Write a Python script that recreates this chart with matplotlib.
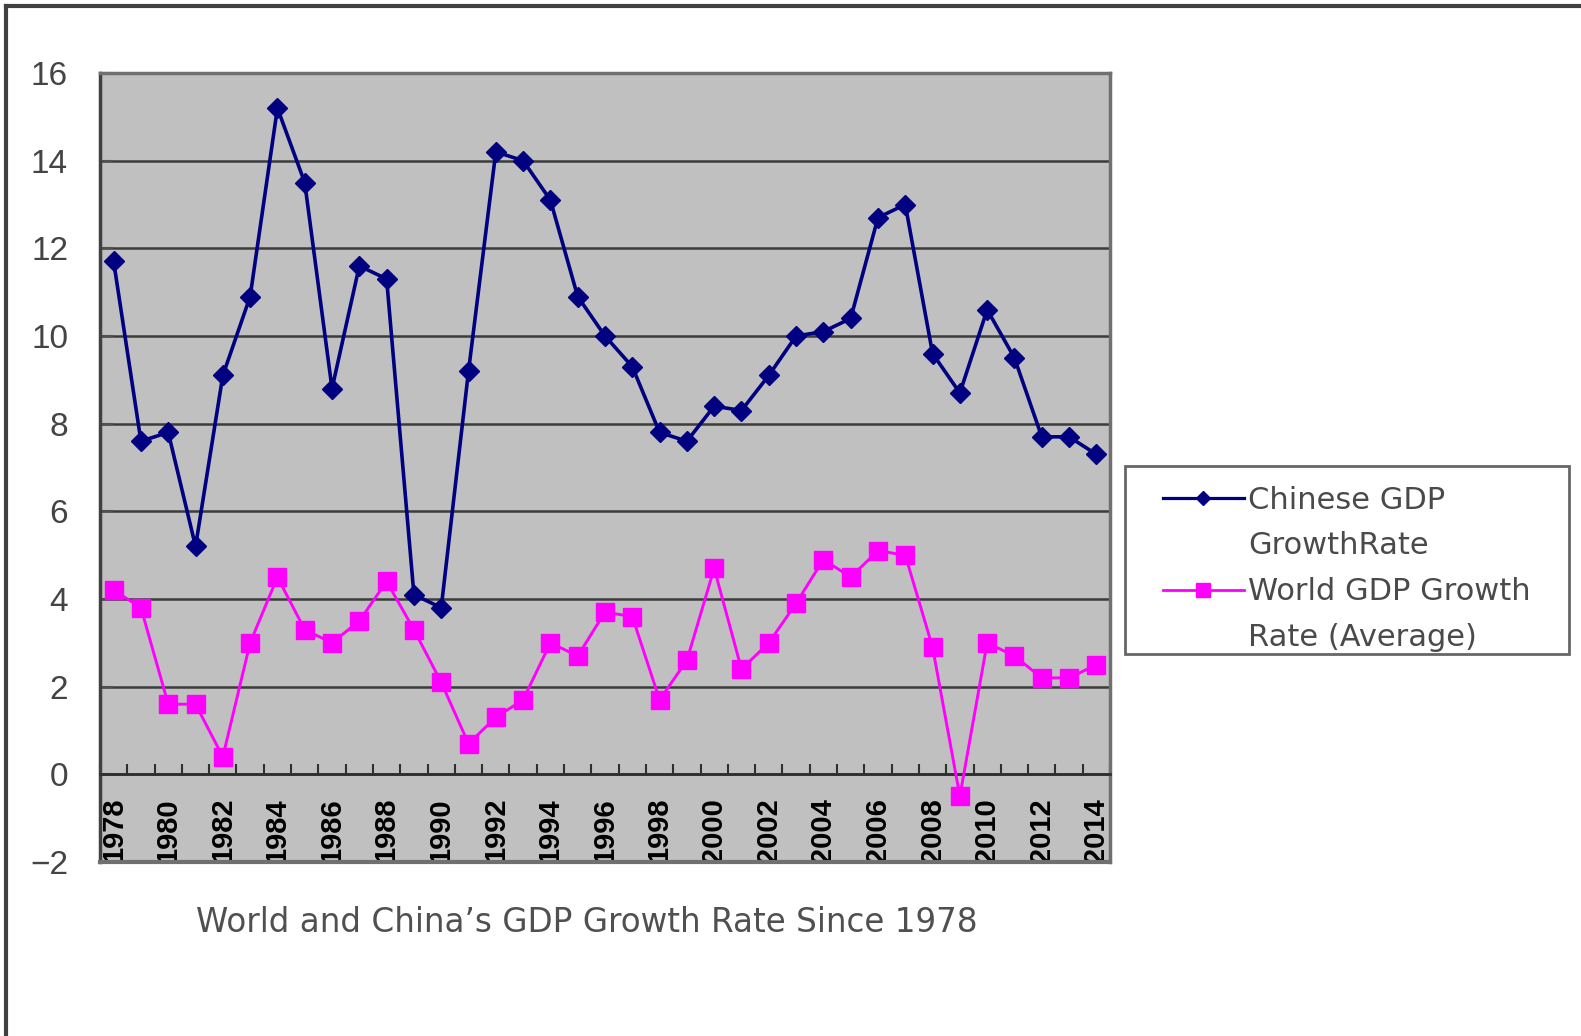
import matplotlib
matplotlib.use("Agg")
import matplotlib.pyplot as plt
from matplotlib.lines import Line2D
from matplotlib.path import Path

# values (percent)
years = list(range(1978, 2015))
china_gdp = [11.7, 7.6, 7.8, 5.2, 9.1, 10.9, 15.2, 13.5, 8.8, 11.6,
             11.3, 4.1, 3.8, 9.2, 14.2, 14.0, 13.1, 10.9, 10.0, 9.3,
             7.8, 7.6, 8.4, 8.3, 9.1, 10.0, 10.1, 10.4, 12.7, 13.0,
             9.6, 8.7, 10.6, 9.5, 7.7, 7.7, 7.3]
world_gdp = [4.2, 3.8, 1.6, 1.6, 0.4, 3.0, 4.5, 3.3, 3.0, 3.5,
             4.4, 3.3, 2.1, 0.7, 1.3, 1.7, 3.0, 2.7, 3.7, 3.6,
             1.7, 2.6, 4.7, 2.4, 3.0, 3.9, 4.9, 4.5, 5.1, 5.0,
             2.9, -0.5, 3.0, 2.7, 2.2, 2.2, 2.5]
year_labels = years[::2]
y_ticks = [-2, 0, 2, 4, 6, 8, 10, 12, 14, 16]
china_label = ["Chinese GDP", "GrowthRate"]
world_label = ["World GDP Growth", "Rate (Average)"]
title = "World and China\u2019s GDP Growth Rate Since 1978"

W, H = 1581, 1036
fig = plt.figure(figsize=(W / 100, H / 100), dpi=100)
ax = fig.add_axes([100 / W, 1 - 862 / H, 1010 / W, (862 - 73) / H])
ax.set_facecolor("#c0c0c0")

ax.plot(years, china_gdp, color="#000080", lw=2.6, marker="D", ms=10.5,
        zorder=4, clip_on=False)
ax.plot(years, world_gdp, color="#ff00ff", lw=2.1, marker="s", ms=13,
        zorder=3, clip_on=False)

ax.set_xlim(years[0] - 0.5, years[-1] + 0.5)
ax.set_ylim(y_ticks[0], y_ticks[-1])
ax.set_yticks(y_ticks)
ax.set_yticklabels([str(v).replace("-", "\u2212") for v in y_ticks],
                   fontsize=24, color="#444444", family="Liberation Sans")
ax.tick_params(axis="y", direction="in", length=9, width=1.5,
               color="#505050", pad=23)
ax.yaxis.grid(True, color="#3c3c3c", lw=1.8)
ax.set_axisbelow(True)

# category axis crosses at zero
ax.spines["bottom"].set_position(("data", 0))
ax.spines["bottom"].set_color("#303030")
ax.spines["bottom"].set_linewidth(2)
ax.set_xticks(year_labels)
ax.set_xticklabels([str(y) for y in year_labels], rotation=90,
                   fontsize=21, fontweight="bold", color="black",
                   family="Liberation Sans")
ax.set_xticks([y - 0.5 for y in years] + [years[-1] + 0.5], minor=True)
ax.tick_params(axis="x", which="major", length=0, pad=17)
ax.tick_params(axis="x", which="minor", direction="in", length=7,
               width=1.5, color="#303030")
for lab in ax.get_xticklabels():
    lab.set_clip_path(ax.patch)

ax.spines["left"].set_color("#404040")
ax.spines["left"].set_linewidth(2.5)
for s in ["top", "right"]:
    ax.spines[s].set_color("#707070")
    ax.spines[s].set_linewidth(2.5)
ax.axhline(y_ticks[0], color="#707070", lw=3, zorder=5, clip_on=False)


def wide_box(x0, y0, width, height, mutation_size):
    # legend frame: wider at the sides, a bit more on top, tighter at bottom
    dx = 0.9 * mutation_size
    top = y0 + height + 0.3 * mutation_size
    bottom = y0 + 0.3 * mutation_size
    return Path([(x0 - dx, bottom), (x0 + width + dx, bottom),
                 (x0 + width + dx, top), (x0 - dx, top),
                 (x0 - dx, bottom)], closed=True)


# legend, second lines as blank entries so the sample sits on the first line
blank = Line2D([], [], color="none")
handles = [Line2D([], [], color="#000080", lw=2.3, marker="D", ms=7.5), blank,
           Line2D([], [], color="#ff00ff", lw=2.0, marker="s", ms=9.5), blank]
labels = [china_label[0], china_label[1], world_label[0], world_label[1]]
leg = fig.legend(handles, labels, loc="upper left",
                 bbox_to_anchor=(1152 / W, 1 - 475 / H),
                 prop={"family": "DejaVu Sans", "size": 22},
                 labelcolor="#4a4a4a", frameon=True, fancybox=False,
                 edgecolor="#404040", handlelength=2.65, handletextpad=0.15,
                 labelspacing=0.55, borderpad=0.35, borderaxespad=0)
leg.get_frame().set_boxstyle(wide_box)
leg.get_frame().set_linewidth(2)

fig.text(587 / W, 1 - 922 / H, title, ha="center", va="center",
         fontsize=23.5, color="#505050", family="DejaVu Sans")

# outer frame, only left and top edges are visible
fig.add_artist(Line2D([6 / W, 6 / W], [0, 1 - 6 / H], color="#404040",
                      lw=3, transform=fig.transFigure))
fig.add_artist(Line2D([6 / W, 1], [1 - 6 / H, 1 - 6 / H], color="#404040",
                      lw=3, transform=fig.transFigure))

fig.savefig("out.png", dpi=100, facecolor="white")
